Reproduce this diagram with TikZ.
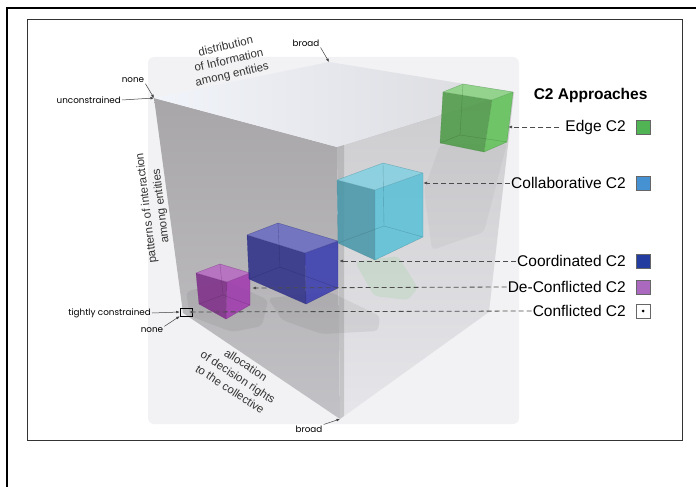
\documentclass[tikz,border=0pt]{standalone}
\usepackage{fontspec}
\setmainfont{Liberation Sans}
\newfontfamily\gothic{Poppins}
\usetikzlibrary{arrows.meta,calc}

\definecolor{cubeleft}{RGB}{168,166,168}
\definecolor{cubeleftlow}{RGB}{194,193,197}
\definecolor{cuberight}{RGB}{204,204,207}
\definecolor{cuberightlow}{RGB}{230,230,234}
\definecolor{cubetop}{RGB}{241,244,250}
\definecolor{cubetopr}{RGB}{218,218,222}
\definecolor{softbg}{RGB}{242,242,244}
\definecolor{edgegreen}{RGB}{95,195,85}
\definecolor{collabcyan}{RGB}{88,192,215}
\definecolor{coordblue}{RGB}{55,58,175}
\definecolor{deconpurple}{RGB}{160,55,175}
\definecolor{swgreen}{RGB}{80,180,85}
\definecolor{swblue}{RGB}{70,145,210}
\definecolor{swdark}{RGB}{35,60,160}
\definecolor{swpurple}{RGB}{170,105,190}

\tikzset{
  ptr/.style={-{Latex[length=3.5pt,width=2.8pt]}, line width=.5pt, black!75},
  guide/.style={dash pattern=on 5pt off 3pt, line width=.8pt, black!70, -{Latex[length=4pt,width=3pt]}},
  legtext/.style={anchor=east, font=\fontsize{15.5}{18}\selectfont, inner sep=1pt},
  swatch/.style={draw=black!60, minimum width=14pt, minimum height=14pt, inner sep=0pt},
  small/.style={font=\gothic\fontsize{8.8}{10}\selectfont, inner sep=1pt},
  axis/.style={font=\fontsize{11.5}{14.5}\selectfont, text=black!80, align=center, inner sep=0pt},
}

% box: colour, TL, TB, TR, TF, BL, BF, BR
\newcommand{\ckutu}[8]{%
  \fill[#1!78!black, opacity=.85] #2 -- #5 -- #7 -- #6 -- cycle;
  \fill[#1, opacity=.85] #5 -- #4 -- #8 -- #7 -- cycle;
  \fill[#1!75!white, opacity=.85] #2 -- #3 -- #4 -- #5 -- cycle;
  \draw[#1!50!black, opacity=.35] #3 -- ($#3+#6-#2$) -- #6 ($#3+#6-#2$) -- #8;
  \draw[#1!70!black, opacity=.5, line width=.4pt] #2 -- #3 -- #4 -- #8 -- #7 -- #6 -- cycle #5 -- #7 #2 -- #5 -- #4;
}

\begin{document}
\begin{tikzpicture}[x=1pt, y=-1pt]
  \useasboundingbox (0,0) rectangle (696,487);

  % frames
  \draw[line width=1.6pt] (7,487) -- (7,8) -- (696,8);
  \draw[line width=1pt, black!80] (27,20) rectangle (682,440);

  % cube corners
  \coordinate (L) at (154,98);
  \coordinate (B) at (329,62);
  \coordinate (R) at (514,92);
  \coordinate (F) at (337,147);
  \coordinate (Lb) at (183,313);
  \coordinate (Fb) at (340,419);
  \coordinate (Rb) at (489,312);

  % cube
  \fill[softbg, rounded corners=6pt] (148,57) rectangle (519,424);
  \shade[top color=cubeleft, bottom color=cubeleftlow] (L) -- (F) -- (Fb) -- (Lb) -- cycle;
  \shade[top color=cuberight, bottom color=cuberightlow] (F) -- (R) -- (Rb) -- (Fb) -- cycle;
  \shade[left color=cubetop, right color=cubetopr] (L) -- (B) -- (R) -- (F) -- cycle;
  \fill[gray, opacity=.3] (F) -- ($(F)+(7,-2)$) -- ($(Fb)+(4,-3)$) -- (Fb) -- cycle;

  % shadows
  \fill[black, opacity=.06, rounded corners=4pt] (186,292) -- (225,280) -- (268,300) -- (262,326) -- (232,332) -- (190,316) -- cycle;
  \fill[black, opacity=.06, rounded corners=4pt] (268,298) -- (330,292) -- (380,316) -- (378,331) -- (322,334) -- (282,320) -- cycle;
  \fill[green!50!gray, opacity=.1, rounded corners=4pt] (355,262) -- (398,256) -- (418,288) -- (408,300) -- (374,296) -- cycle;
  \fill[black, opacity=.035, rounded corners=4pt] (440,145) -- (507,143) -- (484,232) -- (432,250) -- (424,190) -- cycle;

  % boxes
  \ckutu{deconpurple}{(196,273)}{(220,264)}{(250,273)}{(227,282)}{(199,304)}{(226,319)}{(250,305)}
  \ckutu{coordblue}{(247,235)}{(278,223)}{(338,241)}{(305,253)}{(249,279)}{(306,304)}{(338,288)}
  \ckutu{collabcyan}{(337,180)}{(383,163)}{(423,173)}{(375,190)}{(338,243)}{(375,260)}{(423,237)}
  \ckutu{edgegreen}{(443,92)}{(463,84)}{(513,92)}{(492,100)}{(440,143)}{(484,152)}{(507,142)}

  % conflicted point
  \node[draw, line width=.5pt, minimum width=12pt, minimum height=8pt, inner sep=0pt] (conf) at (186,312) {};
  \coordinate (tipEdge) at (508,127);
  \coordinate (tipCollab) at (423,183);
  \coordinate (tipCoord) at (339,261);
  \coordinate (tipDecon) at (252,288);
  \coordinate (tipConf) at (189,312);

  % axis labels
  \node[axis, rotate=13] (info) at (229,61) {distribution\\of Information\\among entities};
  \node[axis, rotate=97] (inter) at (154,207) {patterns of interaction\\among entities};
  \node[axis, rotate=-33] (decis) at (238,377) {allocation\\of decision rights\\to the collective};

  % end labels
  \node[small] (none1) at (133,80) {none};
  \draw[ptr] (none1.south east) -- (L);
  \node[small, anchor=east] (unc) at (122,100) {unconstrained};
  \draw[ptr] (unc.east) -- (L);
  \node[small] (broad1) at (306,43) {broad};
  \draw[ptr] (broad1.south east) -- (B);
  \node[small, anchor=east] (tight) at (152,313) {tightly constrained};
  \draw[ptr] (tight.east) -- (conf.west);
  \node[small] (none2) at (152,330) {none};
  \draw[ptr] (none2.north east) -- (conf.south west);
  \node[small] (broad2) at (309,429) {broad};
  \draw[ptr] (broad2.north east) -- (Fb);

  % legend
  \node[anchor=east, font=\bfseries\fontsize{15.5}{18}\selectfont] (title) at (651,95) {C2 Approaches};
  \node[legtext] (lgEdge) at (627,127) {Edge C2};
  \node[legtext] (lgCollab) at (627,183) {Collaborative C2};
  \node[legtext] (lgCoord) at (627,261) {Coordinated C2};
  \node[legtext] (lgDecon) at (627,287) {De-Conflicted C2};
  \node[legtext] (lgConf) at (627,311) {Conflicted C2};
  \node[swatch, fill=swgreen] (swEdge) at (643,127) {};
  \node[swatch, fill=swblue] (swCollab) at (643,183) {};
  \node[swatch, fill=swdark] (swCoord) at (643,261) {};
  \node[swatch, fill=swpurple] (swDecon) at (643,287) {};
  \node[swatch, fill=white] (swConf) at (643,311) {};
  \fill (swConf.center) circle (1.5pt);

  % pointers
  \draw[guide, shorten <=5pt] (lgEdge.west) -- (tipEdge);
  \draw[guide] (lgCollab.west) -- (tipCollab);
  \draw[guide] (lgCoord.west) -- (tipCoord);
  \draw[guide] (lgDecon.west) -- (tipDecon);
  \draw[guide] (lgConf.west) -- (tipConf);
\end{tikzpicture}
\end{document}
